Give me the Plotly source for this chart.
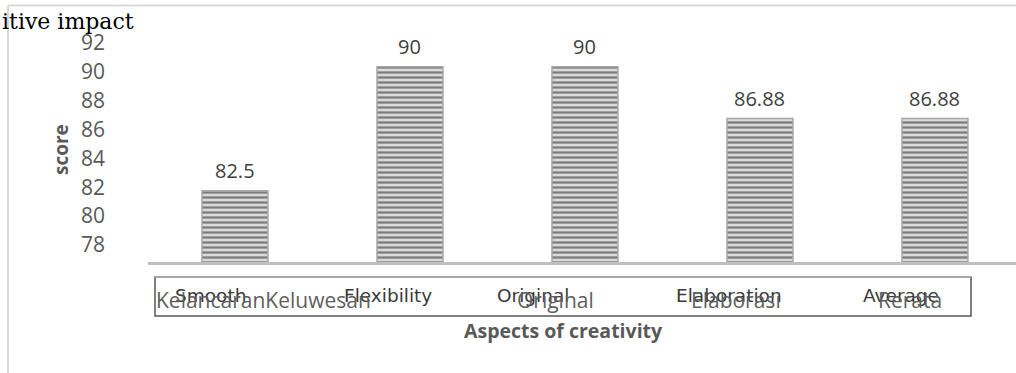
import plotly.graph_objects as go

# ---- data ----
categories = ["Smooth", "Flexibility", "Original", "Elaboration", "Average"]
scores = [82.5, 90, 90, 86.88, 86.88]
value_labels = ["82.5", "90", "90", "86.88", "86.88"]
tick_values = [78, 80, 82, 84, 86, 88, 90, 92]
overlay_anchor = ["Smooth", "Original", "Elaboration", "Average"]
overlay_text = ["KelancaranKeluwesan", "Original", "Elaborasi", "Rerata"]

W, H = 1016, 373
L, R, T, B = 148, 0, 30, 111
PW, PH = W - L - R, H - T - B


def px(xp):
    return (xp - L) / PW


def py(yp):
    return (H - B - yp) / PH


fig = go.Figure()
fig.add_trace(go.Bar(
    x=categories, y=scores,
    marker=dict(
        color="#d6d6d6",
        line=dict(color="#a8a8a8", width=1.5),
        pattern=dict(shape="-", size=5, solidity=0.45, fgcolor="#7c7c7c",
                     bgcolor="#dadada", fillmode="replace"),
    ),
    width=0.377,
    hoverinfo="skip",
))
# empty trace that carries the tick-label axis
fig.add_trace(go.Scatter(x=[], y=[], yaxis="y2", showlegend=False))

annotations = []
for c, v, t in zip(categories, scores, value_labels):
    annotations.append(dict(x=c, y=v, xref="x", yref="y", text=t, showarrow=False,
                            xanchor="center", yanchor="middle", yshift=20,
                            font=dict(family="Open Sans", size=20, color="#404040")))

dark_shift = [-24, -22, -52, -31, -34]
for c, s in zip(categories, dark_shift):
    annotations.append(dict(x=c, y=py(295), xref="x", yref="paper", text=c,
                            showarrow=False, xshift=s, xanchor="center", yanchor="middle",
                            font=dict(family="DejaVu Sans", size=18.5, color="#3a3a3a")))
gray_shift = [29, -29, -24, -25]
for c, t, s in zip(overlay_anchor, overlay_text, gray_shift):
    annotations.append(dict(x=c, y=py(300), xref="x", yref="paper", text=t,
                            showarrow=False, xshift=s, xanchor="center", yanchor="middle",
                            font=dict(family="Open Sans", size=21, color="#5f5f5f")))

annotations += [
    dict(x=px(61), y=py(150), xref="paper", yref="paper", text="<b>score</b>",
         textangle=-90, showarrow=False, xanchor="center", yanchor="middle",
         font=dict(family="Open Sans", size=19, color="#595959")),
    dict(x=px(563), y=py(330), xref="paper", yref="paper",
         text="<b>Aspects of creativity</b>", showarrow=False,
         xanchor="center", yanchor="middle",
         font=dict(family="Open Sans", size=19.5, color="#595959")),
    dict(x=px(0), y=py(22), xref="paper", yref="paper", text="itive impact",
         xanchor="left", yanchor="middle", showarrow=False,
         font=dict(family="DejaVu Serif", size=22, color="#000000")),
]

shapes = [
    dict(type="line", xref="paper", yref="paper", x0=px(8), x1=px(W), y0=py(5.5), y1=py(5.5),
         line=dict(color="#d9d9d9", width=2)),
    dict(type="line", xref="paper", yref="paper", x0=px(8), x1=px(8), y0=py(5.5), y1=py(H),
         line=dict(color="#d9d9d9", width=2)),
    dict(type="rect", xref="paper", yref="paper", x0=px(155), x1=px(971), y0=py(316), y1=py(277),
         line=dict(color="#555555", width=1.5)),
    dict(type="line", xref="paper", yref="paper", x0=px(155), x1=px(971), y0=py(277), y1=py(277),
         line=dict(color="#b4b4b4", width=1.5)),
]

fig.update_layout(
    width=W, height=H,
    margin=dict(l=L, r=R, t=T, b=B, pad=0),
    paper_bgcolor="white", plot_bgcolor="white",
    showlegend=False,
    bargap=0.62,
    xaxis=dict(range=[-0.497, 4.463], showticklabels=False, showgrid=False,
               zeroline=False, showline=True, linecolor="#bfbfbf", linewidth=3,
               ticks=""),
    yaxis=dict(range=[78.19, 92.23], showticklabels=False, showgrid=False,
               zeroline=False, showline=False, ticks=""),
    yaxis2=dict(overlaying="y", side="left", range=[76.82, 92.9],
                tickvals=tick_values, ticktext=[str(v) for v in tick_values],
                showgrid=False, zeroline=False, showline=False, ticks="",
                ticklabelstandoff=42,
                tickfont=dict(family="Open Sans", size=21, color="#595959")),
    annotations=annotations,
    shapes=shapes,
)

fig.write_html("out.html")
